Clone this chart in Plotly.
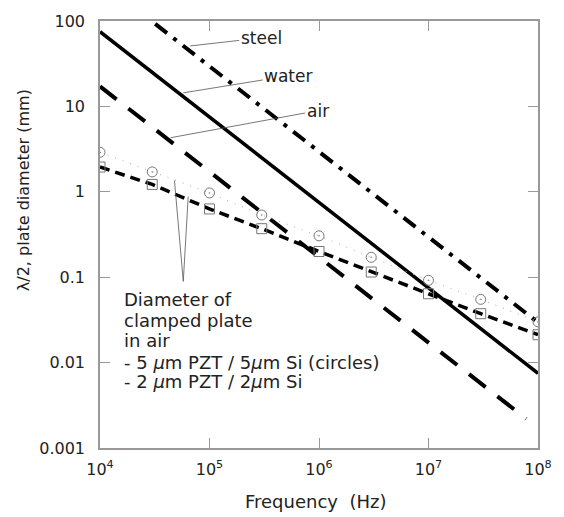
import plotly.graph_objects as go

# Data
freq_pts = [1e4, 3e4, 1e5, 3e5, 1e6, 3e6, 1e7, 3e7, 1e8]
circles_5um = [2.9, 1.71, 0.97, 0.535, 0.305, 0.171, 0.092, 0.055, 0.030]
squares_2um = [1.95, 1.22, 0.63, 0.37, 0.20, 0.115, 0.064, 0.0374, 0.0212]

steel_f = [1e4, 1e8]
steel_v = [295, 0.0295]
water_f = [1e4, 1e8]
water_v = [75, 0.0075]
air_f = [1e4, 7.8e7]
air_v = [17.15, 0.0022]

x_ticks = [1e4, 1e5, 1e6, 1e7, 1e8]
x_ticktext = ["10<sup>4</sup>", "10<sup>5</sup>", "10<sup>6</sup>", "10<sup>7</sup>", "10<sup>8</sup>"]
y_ticks = [0.001, 0.01, 0.1, 1, 10, 100]
y_ticktext = ["0.001", "0.01", "0.1", "1", "10", "100"]

note_lines = [
    "Diameter of",
    "clamped plate",
    "in air",
    "- 5 <i>μ</i>m PZT / 5<i>μ</i>m Si (circles)",
    "- 2 <i>μ</i>m PZT / 2<i>μ</i>m Si",
]

FONT = "DejaVu Sans, Verdana, sans-serif"
TXT = "#222222"
W, H = 564, 517
L, R, T, B = 100, 17, 20, 69
PW, PH = W - L - R, H - T - B


def px(x):
    return (x - L) / PW


def py(y):
    return (H - B - y) / PH


fig = go.Figure()
fig.add_trace(go.Scatter(x=steel_f, y=steel_v, mode="lines",
                         line=dict(color="black", width=4, dash="15px,8px,4px,8px")))
fig.add_trace(go.Scatter(x=water_f, y=water_v, mode="lines",
                         line=dict(color="black", width=3.5)))
fig.add_trace(go.Scatter(x=air_f, y=air_v, mode="lines",
                         line=dict(color="black", width=4, dash="21px,15px")))
fig.add_trace(go.Scatter(x=freq_pts, y=circles_5um, mode="lines+markers",
                         line=dict(color="#aaaaaa", width=1, dash="1px,7px"),
                         marker=dict(symbol="circle-open-dot", size=10, color="#777777",
                                     line=dict(width=1, color="#777777"))))
fig.add_trace(go.Scatter(x=freq_pts, y=squares_2um, mode="lines",
                         line=dict(color="black", width=3.5, dash="10px,6px")))
fig.add_trace(go.Scatter(x=freq_pts, y=squares_2um, mode="markers",
                         marker=dict(symbol="square-open", size=10, color="#777777",
                                     line=dict(width=1, color="#777777"))))

axis_common = dict(
    showgrid=False, zeroline=False, showline=True, linecolor="#999999", linewidth=1.5,
    mirror="ticks", ticks="inside", ticklen=10, tickwidth=1, tickcolor="#999999",
    tickfont=dict(family=FONT, size=16, color=TXT),
)

fig.update_layout(
    width=W, height=H,
    margin=dict(l=L, r=R, t=T, b=B),
    paper_bgcolor="white", plot_bgcolor="white",
    showlegend=False,
    xaxis=dict(type="log", range=[4, 8], tickvals=x_ticks, ticktext=x_ticktext,
               ticklabelstandoff=6, **axis_common),
    yaxis=dict(type="log", range=[-3, 2], tickvals=y_ticks, ticktext=y_ticktext,
               ticklabelstandoff=10, **axis_common),
)

# axis titles
fig.add_annotation(x=px(320), y=py(502), xref="paper", yref="paper",
                   xanchor="center", yanchor="middle",
                   text="Frequency  (Hz)", showarrow=False,
                   font=dict(family=FONT, size=18, color=TXT))
fig.add_annotation(x=px(22), y=py(190), xref="paper", yref="paper",
                   xanchor="center", yanchor="middle",
                   text="λ/2, plate diameter (mm)", showarrow=False, textangle=-90,
                   font=dict(family=FONT, size=16, color=TXT))

ann_font = dict(family=FONT, size=17, color=TXT)
callouts = [
    ("steel", (192, 45), (263, 37)),
    ("water", (185, 92), (290, 75)),
    ("air", (172, 137), (319, 110)),
]
for text, tip, center in callouts:
    fig.add_annotation(x=px(tip[0]), y=py(tip[1]), xref="paper", yref="paper",
                       text=text, showarrow=True, arrowhead=0, arrowwidth=0.8,
                       arrowcolor="#555555", ax=center[0] - tip[0], ay=center[1] - tip[1],
                       font=ann_font, standoff=0)

note_y = [299, 320, 340, 362, 381]
for line, yc in zip(note_lines, note_y):
    fig.add_annotation(x=px(122), y=py(yc), xref="paper", yref="paper",
                       xanchor="left", yanchor="middle", align="left", showarrow=False,
                       text=line, font=dict(family=FONT, size=18, color=TXT))

for (x0, y0) in [(176, 180), (190, 196)]:
    fig.add_shape(type="line", xref="paper", yref="paper",
                  x0=px(x0), y0=py(y0), x1=px(185), y1=py(281),
                  line=dict(color="#555555", width=0.8))

fig.write_html("out.html")
